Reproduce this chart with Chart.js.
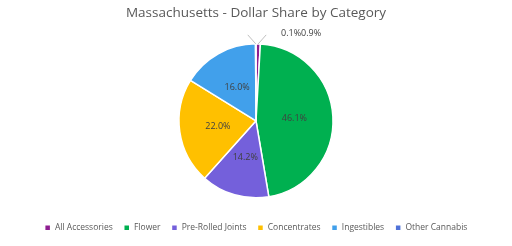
<!DOCTYPE html>
<html>
<head>
<meta charset="utf-8">
<script src="https://cdn.jsdelivr.net/npm/chart.js@4"></script>
<style>
  html, body { margin: 0; padding: 0; background: #fff; }
  #wrap { width: 512px; height: 246px; }
</style>
</head>
<body>
<div id="wrap"><canvas id="shareChart"></canvas></div>
<script>
const categories = ['All Accessories', 'Flower', 'Pre-Rolled Joints', 'Concentrates', 'Ingestibles', 'Other Cannabis'];
const shares = [0.9, 46.1, 14.2, 22.0, 16.0, 0.1];
const colors = ['#8E1E91', '#00B050', '#7460DB', '#FFC000', '#41A0EB', '#4F72D8'];

// labels inside slices, plus leader lines for the tiny ones
const sliceLabels = {
  id: 'sliceLabels',
  afterDatasetsDraw(chart) {
    const ctx = chart.ctx;
    const meta = chart.getDatasetMeta(0);
    const small = [];
    ctx.save();
    ctx.font = '9px "Open Sans"';
    ctx.fillStyle = '#404040';
    ctx.textAlign = 'center';
    ctx.textBaseline = 'middle';
    meta.data.forEach((arc, i) => {
      const txt = shares[i].toFixed(1) + '%';
      if (shares[i] < 2) {
        small.push({ arc, txt, i });
        return;
      }
      const p = arc.getCenterPoint();
      ctx.fillText(txt, p.x, p.y);
    });
    // leader lines
    ctx.strokeStyle = '#BFBFBF';
    ctx.lineWidth = 1;
    let top = 0, cx = 0;
    small.forEach(s => {
      const a = (s.arc.startAngle + s.arc.endAngle) / 2;
      const x0 = s.arc.x + Math.cos(a) * s.arc.outerRadius;
      const y0 = s.arc.y + Math.sin(a) * s.arc.outerRadius;
      const dir = Math.cos(a) >= 0 ? 1 : -1;
      ctx.beginPath();
      ctx.moveTo(x0, y0);
      ctx.lineTo(x0 + dir * 8, y0 - 9);
      ctx.stroke();
      top = s.arc.y - s.arc.outerRadius;
      cx = s.arc.x;
    });
    // small labels sit side by side to the right of the top
    ctx.textAlign = 'left';
    let x = cx + 25;
    small.slice().reverse().forEach(s => {
      ctx.fillText(s.txt, x, top - 10);
      x += ctx.measureText(s.txt).width;
    });
    ctx.restore();
  }
};

new Chart(document.getElementById('shareChart'), {
  type: 'pie',
  data: {
    labels: categories,
    datasets: [{
      data: shares,
      backgroundColor: colors,
      borderColor: '#ffffff',
      borderWidth: 1.5,
      radius: 77
    }]
  },
  options: {
    responsive: true,
    maintainAspectRatio: false,
    animation: false,
    layout: { padding: { top: 0, bottom: 4 } },
    plugins: {
      title: {
        display: true,
        text: 'Massachusetts - Dollar Share by Category',
        color: '#595959',
        font: { family: '"Open Sans"', size: 13.5, weight: 'normal' },
        padding: { top: 5, bottom: 8 }
      },
      legend: {
        position: 'bottom',
        labels: {
          color: '#595959',
          font: { family: '"Open Sans"', size: 8.5 },
          boxWidth: 6,
          boxHeight: 6,
          padding: 11
        }
      },
      tooltip: { enabled: false }
    }
  },
  plugins: [sliceLabels]
});
</script>
</body>
</html>
